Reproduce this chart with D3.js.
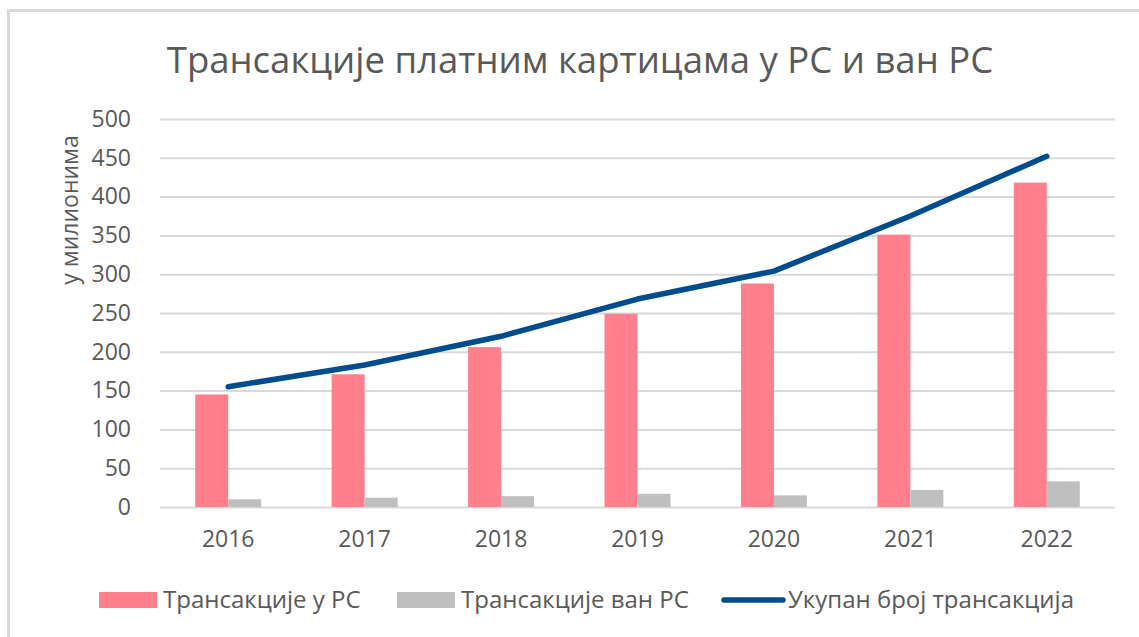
<!DOCTYPE html>
<html>
<head>
<meta charset="utf-8">
<script src="https://cdn.jsdelivr.net/npm/d3@7"></script>
<style>
  body { margin: 0; background: #fff; }
  text { font-family: "Open Sans", sans-serif; fill: #595959; }
</style>
</head>
<body>
<div id="chart"></div>
<script>
// data (millions)
var years = ["2016", "2017", "2018", "2019", "2020", "2021", "2022"];
var inRS = [145, 171, 206, 249, 288, 351, 418];
var outRS = [10, 12, 14, 17, 15, 22, 33];
var total = [155, 183, 220, 268, 304, 375, 452];
var yTicks = [0, 50, 100, 150, 200, 250, 300, 350, 400, 450, 500];

var seriesNames = ["Трансакције у РС", "Трансакције ван РС", "Укупан број трансакција"];
var titleText = "Трансакције платним картицама у РС и ван РС";
var yTitle = "у милионима";

var svgWidth = 1139;
var svgHeight = 637;

var margin = { top: 119, right: 24, bottom: 130, left: 160 };
var width = svgWidth - margin.left - margin.right;
var height = svgHeight - margin.top - margin.bottom;

var svg = d3.select("#chart")
  .append("svg")
  .attr("width", svgWidth)
  .attr("height", svgHeight);

// frame (only top and left edges visible)
svg.append("path")
  .attr("d", "M8.5,640 V10.5 H1139")
  .attr("fill", "none")
  .attr("stroke", "#d9d9d9")
  .attr("stroke-width", 3);

var chartGroup = svg.append("g")
  .attr("transform", `translate(${margin.left}, ${margin.top})`);

var xScale = d3.scaleBand()
  .domain(years)
  .range([0, width]);

var yScale = d3.scaleLinear()
  .domain([0, 500])
  .range([height, 0]);

var barW = 33;

// gridlines
chartGroup.append("g")
  .call(d3.axisLeft(yScale).tickValues(yTicks).tickSize(-width).tickFormat(""))
  .call(g => g.select(".domain").remove())
  .selectAll("line")
  .attr("stroke", "#d9d9d9")
  .attr("stroke-width", 2);

// y tick labels
chartGroup.append("g")
  .attr("transform", "translate(-26,0)")
  .call(d3.axisLeft(yScale).tickValues(yTicks).tickSize(0))
  .call(g => g.select(".domain").remove())
  .selectAll("text")
  .attr("font-size", "23px")
  .attr("font-family", "Open Sans, sans-serif")
  .attr("fill", "#595959");

// x labels
chartGroup.append("g")
  .attr("transform", `translate(0, ${height})`)
  .call(d3.axisBottom(xScale).tickSize(0).tickPadding(24))
  .call(g => g.select(".domain").remove())
  .selectAll("text")
  .attr("font-size", "23px")
  .attr("font-family", "Open Sans, sans-serif")
  .attr("fill", "#595959");

// bars
chartGroup.selectAll(".barIn")
  .data(years)
  .enter()
  .append("rect")
  .attr("x", d => xScale(d) + xScale.bandwidth() / 2 - barW)
  .attr("y", (d, i) => yScale(inRS[i]))
  .attr("width", barW)
  .attr("height", (d, i) => height - yScale(inRS[i]))
  .attr("fill", "#ff7f8c");

chartGroup.selectAll(".barOut")
  .data(years)
  .enter()
  .append("rect")
  .attr("x", d => xScale(d) + xScale.bandwidth() / 2)
  .attr("y", (d, i) => yScale(outRS[i]))
  .attr("width", barW)
  .attr("height", (d, i) => height - yScale(outRS[i]))
  .attr("fill", "#bfbfbf");

// total line
var line = d3.line()
  .x((d, i) => xScale(years[i]) + xScale.bandwidth() / 2)
  .y(d => yScale(d));

chartGroup.append("path")
  .datum(total)
  .attr("d", line)
  .attr("fill", "none")
  .attr("stroke", "#004c8f")
  .attr("stroke-width", 5.5)
  .attr("stroke-linecap", "round")
  .attr("stroke-linejoin", "round");

// title
svg.append("text")
  .attr("x", 580)
  .attr("y", 73)
  .attr("text-anchor", "middle")
  .attr("font-size", "36.5px")
  .text(titleText);

// y axis title
svg.append("text")
  .attr("transform", "translate(78, 210) rotate(-90)")
  .attr("text-anchor", "middle")
  .attr("font-size", "23px")
  .text(yTitle);

// legend
var legendX = [99, 397, 721];
var legend = svg.append("g");
seriesNames.forEach(function(name, i) {
  var g = legend.append("g").attr("transform", `translate(${legendX[i]}, 600)`);
  if (i < 2) {
    g.append("rect")
      .attr("x", 0).attr("y", -8)
      .attr("width", 58).attr("height", 16)
      .attr("fill", i == 0 ? "#ff7f8c" : "#bfbfbf");
  } else {
    g.append("line")
      .attr("x1", 3).attr("x2", 62)
      .attr("stroke", "#004c8f")
      .attr("stroke-width", 5.5)
      .attr("stroke-linecap", "round");
  }
  g.append("text")
    .attr("x", i < 2 ? 64 : 67)
    .attr("y", 8)
    .attr("font-size", "24px")
    .text(name);
});
</script>
</body>
</html>
